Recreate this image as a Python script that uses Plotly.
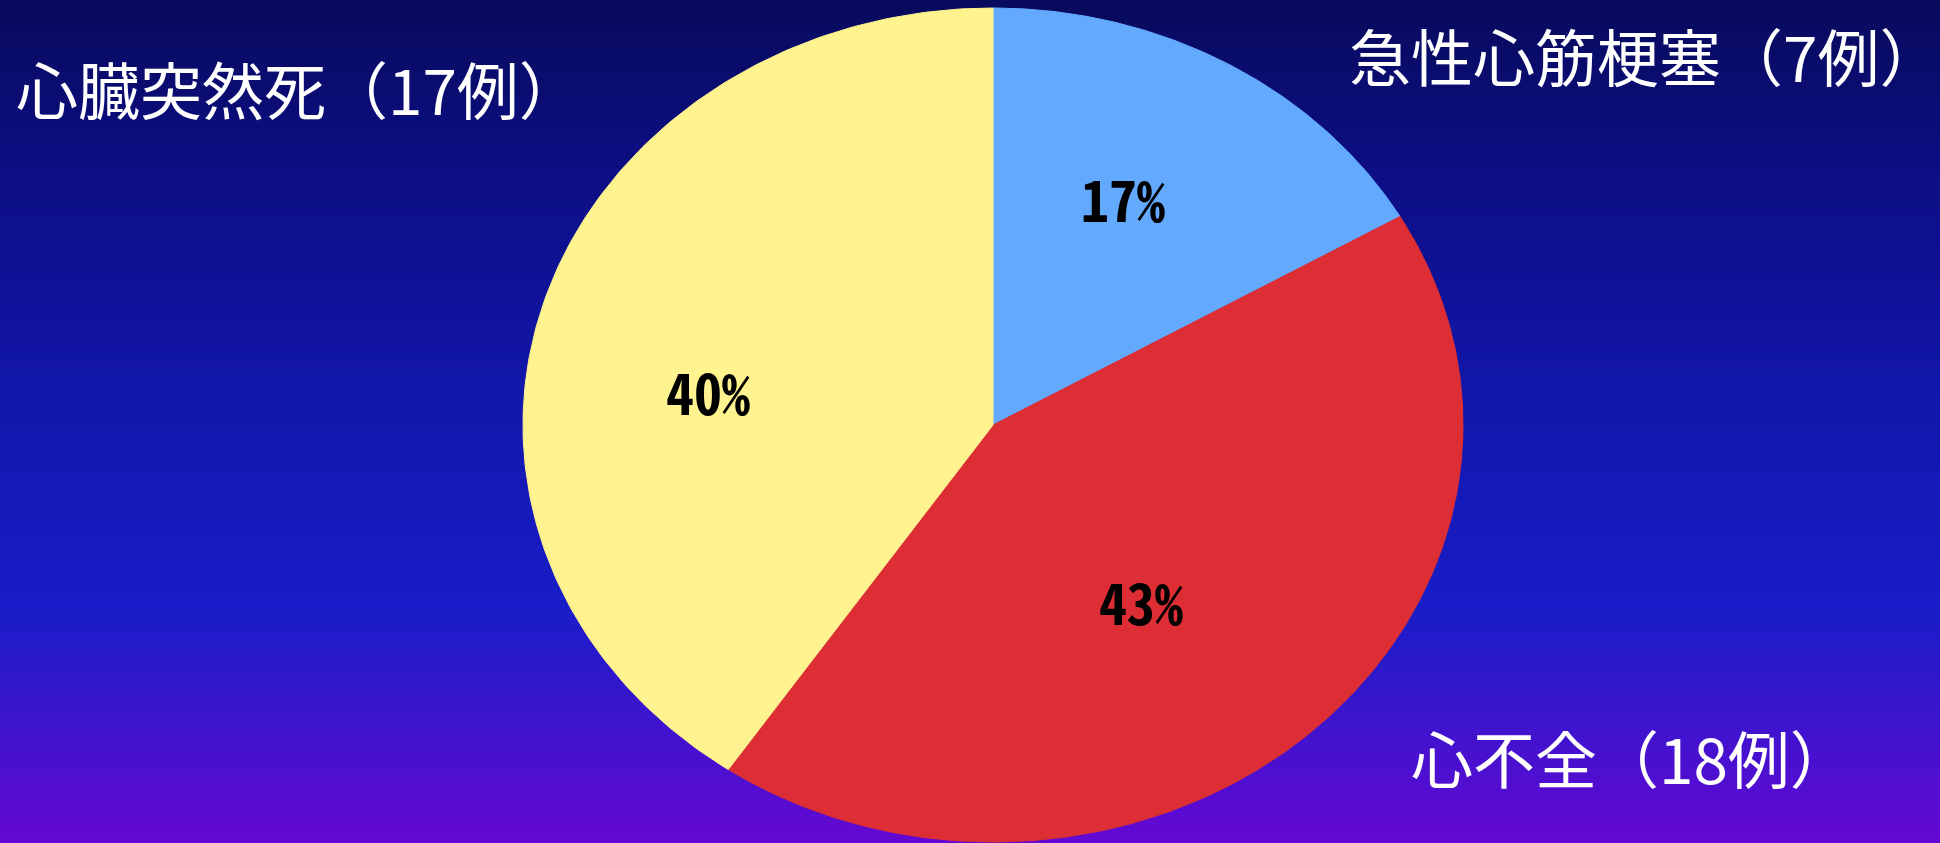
import numpy as np
import plotly.graph_objects as go

# Causes of death (number of cases)
categories = ["急性心筋梗塞", "心不全", "心臓突然死"]
cases = [7, 18, 17]
slice_colors = ["#63AAFF", "#DC2E34", "#FFF38F"]

W, H = 1940, 843

# Ellipse geometry (pixels): centre and radii
CX, CY, RX, RY = 993, 425, 470, 417

fig = go.Figure()

# Vertical gradient background, drawn as thin bands in paper space
stops = [(0.00, (8, 10, 92)), (0.18, (12, 14, 128)), (0.45, (18, 22, 168)),
         (0.72, (25, 29, 200)), (0.86, (62, 20, 206)), (1.00, (100, 8, 210))]


def grad(t):
    for (t0, c0), (t1, c1) in zip(stops[:-1], stops[1:]):
        if t0 <= t <= t1:
            f = (t - t0) / (t1 - t0)
            return tuple(int(round(a + (b - a) * f)) for a, b in zip(c0, c1))
    return stops[-1][1]


n_bands = 211
shapes = []
for i in range(n_bands):
    t = (i + 0.5) / n_bands
    r, g, b = grad(t)
    shapes.append(dict(type="rect", xref="paper", yref="paper", layer="below",
                       x0=0, x1=1, y0=1 - (i + 1) / n_bands - 0.001, y1=1 - i / n_bands,
                       line=dict(width=0), fillcolor=f"rgb({r},{g},{b})"))

# Pie slices: clockwise from 12 o'clock on a unit circle; the axis
# ranges stretch it into the ellipse.
total = sum(cases)
start = 0.0
for name, v, col in zip(categories, cases, slice_colors):
    sweep = v / total * 2 * np.pi
    th = np.linspace(start, start + sweep, 200)
    xs = np.concatenate([[0], np.sin(th), [0]])
    ys = np.concatenate([[0], np.cos(th), [0]])
    fig.add_trace(go.Scatter(x=xs, y=ys, mode="lines", fill="toself",
                             fillcolor=col, line=dict(color=col, width=1),
                             name=name, hoverinfo="name", showlegend=False))
    start += sweep

# Category labels (white) and percentages (black, inside slices)
cat_pos = [(1348, 55, "left"), (1410, 757, "left"), (15, 88, "left")]
pct_pos = [(1123, 197), (1141, 600), (708, 390)]
cat_font = "Noto Sans CJK JP"
pct_font = "Noto Sans Mono CJK JP, Noto Sans CJK JP"

annotations = []
for name, v, (px, py, anc), (qx, qy) in zip(categories, cases, cat_pos, pct_pos):
    annotations.append(dict(xref="paper", yref="paper", x=px / W, y=1 - py / H,
                            xanchor=anc, yanchor="middle", showarrow=False,
                            borderpad=0,
                            text=f"{name}（{v}例）",
                            font=dict(family=cat_font, size=62, color="white")))
    annotations.append(dict(xref="paper", yref="paper", x=qx / W, y=1 - qy / H,
                            xanchor="center", yanchor="middle", showarrow=False,
                            text=f"<b>{round(v / total * 100)}%</b>",
                            font=dict(family=pct_font, size=56, color="black")))

fig.update_layout(
    width=W, height=H,
    margin=dict(l=0, r=0, t=0, b=0),
    paper_bgcolor="#10148C", plot_bgcolor="rgba(0,0,0,0)",
    shapes=shapes, annotations=annotations,
    xaxis=dict(range=[-CX / RX, (W - CX) / RX], visible=False, fixedrange=True),
    yaxis=dict(range=[-(H - CY) / RY, CY / RY], visible=False, fixedrange=True),
    showlegend=False,
)

fig.write_html("out.html")
